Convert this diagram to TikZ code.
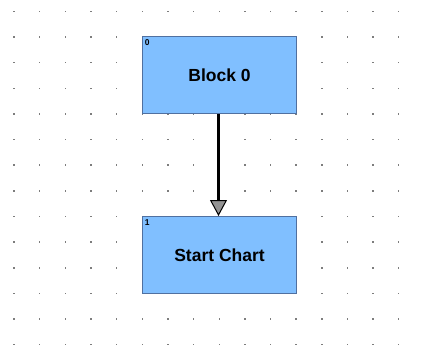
\documentclass[tikz,border=0pt]{standalone}
\usepackage{fontspec}
\setmainfont{Liberation Sans}
\usetikzlibrary{arrows.meta}
\definecolor{boxfill}{RGB}{128,191,255}
\definecolor{boxline}{RGB}{80,112,160}
\definecolor{dotc}{RGB}{125,125,125}
\tikzset{
  blockbox/.style={draw=boxline, line width=1pt, fill=boxfill, minimum width=154.5pt, minimum height=77pt, inner sep=0pt, font=\bfseries\fontsize{17.5}{20}\selectfont},
  idlabel/.style={anchor=north west, inner sep=0pt, font=\bfseries\fontsize{8.5}{9}\selectfont},
  conn/.style={line width=2.4pt, -{Triangle[length=16pt, width=17pt, fill=gray!85, line width=1pt]}}
}
\begin{document}
\begin{tikzpicture}[x=1pt, y=-1pt]
\useasboundingbox (0,0) rectangle (422,347);
\fill[white] (0,0) rectangle (422,347);
\foreach \i in {0,...,15} {
  \foreach \j in {0,...,13} {
    \fill[dotc] ({14+25.65*\i-0.7},{11.3+25.65*\j-0.7}) rectangle ++(1.4,1.4);
  }
}
\node[blockbox] (b0) at (219.5,75.4) {Block 0};
\node[blockbox] (b1) at (219.5,255) {Start Chart};
\node[idlabel] (l0) at ([xshift=3pt,yshift=-3pt]b0.north west) {0};
\node[idlabel] (l1) at ([xshift=3pt,yshift=-3pt]b1.north west) {1};
\draw[conn] ([xshift=-1pt]b0.south) -- ([xshift=-1pt]b1.north);
\end{tikzpicture}
\end{document}
